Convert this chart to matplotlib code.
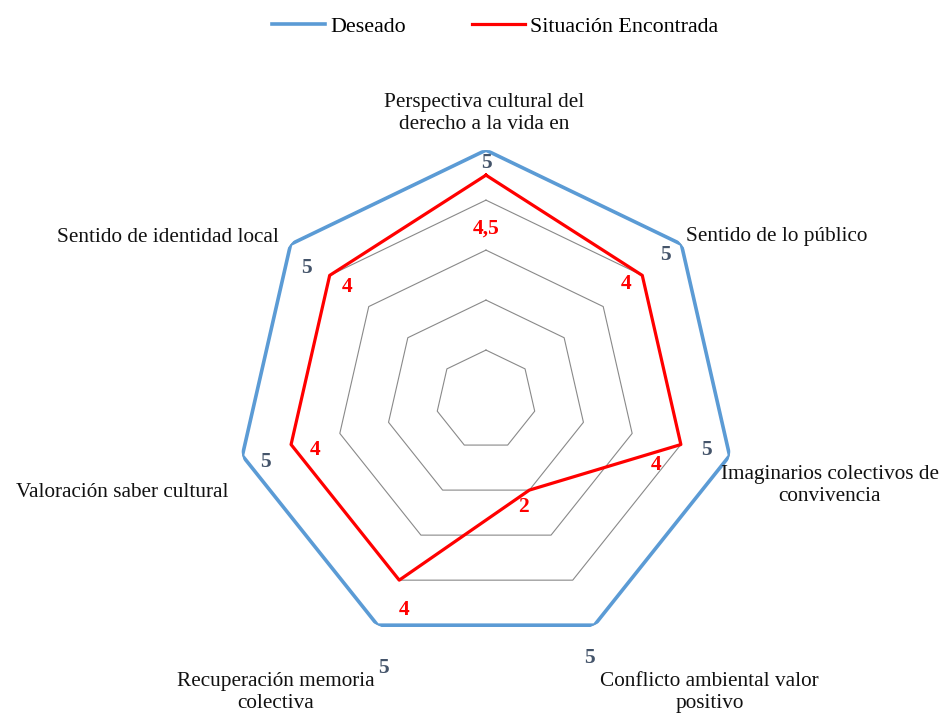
import matplotlib
matplotlib.use("Agg")
import matplotlib.pyplot as plt
import numpy as np

matplotlib.rcParams.update({'font.size': 15.3, 'font.family': 'Liberation Serif'})

categorias = ["Perspectiva cultural del\nderecho a la vida en",
              "Sentido de lo público",
              "Imaginarios colectivos de\nconvivencia",
              "Conflicto ambiental valor\npositivo",
              "Recuperación memoria\ncolectiva",
              "Valoración saber cultural",
              "Sentido de identidad local"]
deseado = [5, 5, 5, 5, 5, 5, 5]
encontrada = [4.5, 4, 4, 2, 4, 4, 4]
etiquetas_enc = ["4,5", "4", "4", "2", "4", "4", "4"]
niveles = [1, 2, 3, 4, 5]

n = len(categorias)
theta = np.arange(n) * 2 * np.pi / n
theta_c = np.append(theta, theta[0])

fig = plt.figure(figsize=(9.4, 7.15), dpi=100)
ax = fig.add_axes([0.251, 0.091, 0.532, 0.699], projection='polar')
ax.set_theta_offset(np.pi / 2)
ax.set_theta_direction(-1)
ax.set_ylim(0, 5)
ax.set_axis_off()

# rejilla heptagonal
for v in niveles:
    ax.plot(theta_c, [v] * (n + 1), color='#898989', lw=0.8, zorder=1)

ax.plot(theta_c, deseado + deseado[:1], color='#5B9BD5', lw=2.6, label='Deseado', zorder=3)
ax.plot(theta_c, encontrada + encontrada[:1], color='#FF0000', lw=2.3,
        label='Situación Encontrada', zorder=4)

# desplazamientos de etiquetas (pixeles)
off_cat = [(-2, 37, 'center'), (5, 8, 'left'), (100, -30, 'center'), (115, -67, 'center'),
           (-102, -67, 'center'), (-14, -37, 'right'), (-12, 7, 'right')]
off_des = [(0, -13), (-16, -11), (-23, 6), (-5, -33), (6, -43), (23, -6), (16, -24)]
off_enc = [(0, -53), (-16, -9), (-25, -20), (-6, -17), (5, -30), (24, -5), (17, -12)]

for i in range(n):
    dx, dy, ha = off_cat[i]
    ax.annotate(categorias[i], (theta[i], deseado[i]), xytext=(dx, dy),
                textcoords='offset pixels', ha=ha, va='center', multialignment='center',
                color='#111111', annotation_clip=False)
    ax.annotate(str(deseado[i]), (theta[i], deseado[i]), xytext=off_des[i],
                textcoords='offset pixels', ha='center', va='center', fontsize=15.5,
                color='#44546A', fontweight='bold', annotation_clip=False, zorder=5)
    ax.annotate(etiquetas_enc[i], (theta[i], encontrada[i]), xytext=off_enc[i],
                textcoords='offset pixels', ha='center', va='center', fontsize=15.5,
                color='#FF0000', fontweight='bold', annotation_clip=False, zorder=5)

fig.legend(loc='upper center', bbox_to_anchor=(0.527, 1.005), ncol=2, frameon=False,
           handlelength=2.4, handletextpad=0.25, columnspacing=3.0, fontsize=15.8)

plt.savefig("out.png", dpi=100)
